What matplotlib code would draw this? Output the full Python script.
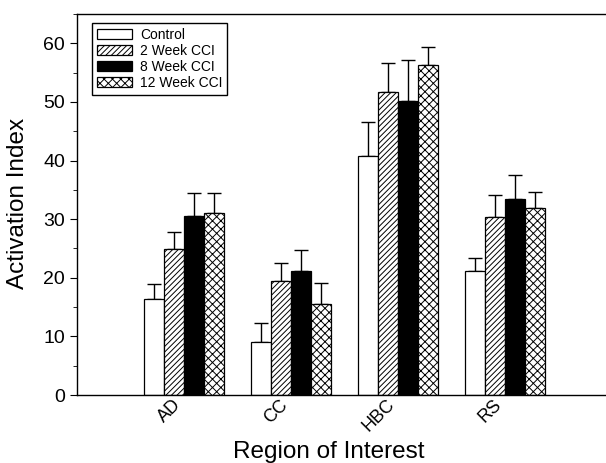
import numpy as np
import matplotlib.pyplot as plt
from matplotlib.ticker import MultipleLocator

plt.rcParams['font.family'] = ['Liberation Sans', 'DejaVu Sans']
plt.rcParams['hatch.linewidth'] = 0.7

regions = ["AD", "CC", "HBC", "RS"]
groups = ["Control", "2 Week CCI", "8 Week CCI", "12 Week CCI"]

control = [16.3, 9.1, 40.7, 21.2]
week2 = [24.9, 19.5, 51.7, 30.4]
week8 = [30.6, 21.1, 50.2, 33.4]
week12 = [31.1, 15.5, 56.3, 31.9]

control_err = [2.6, 3.2, 5.9, 2.1]
week2_err = [2.9, 3.1, 4.9, 3.7]
week8_err = [3.8, 3.7, 7.0, 4.2]
week12_err = [3.4, 3.6, 3.1, 2.8]

means = [control, week2, week8, week12]
errs = [control_err, week2_err, week8_err, week12_err]
colors = ["white", "white", "black", "white"]
hatches = [None, "//////", None, "xxxx"]

fig = plt.figure(figsize=(6.06, 4.63), dpi=100)
ax = fig.add_axes([77/606, 68/463, 529/606, 381/463])

x = np.arange(1, len(regions) + 1)
w = 0.187
for i in range(4):
    pos = x + (i - 1.5) * w
    ax.bar(pos, means[i], w, color=colors[i], edgecolor="black",
           hatch=hatches[i], linewidth=0.9, label=groups[i], zorder=2)
    ax.errorbar(pos, means[i], yerr=[np.zeros(4), errs[i]], fmt="none",
                ecolor="black", elinewidth=1, capsize=5, capthick=1, zorder=1)

ax.set_xlim(0, 4.94)
ax.set_ylim(0, 65)
ax.yaxis.set_major_locator(MultipleLocator(10))
ax.yaxis.set_minor_locator(MultipleLocator(5))
ax.tick_params(axis="y", which="major", length=5, labelsize=14, direction="out")
ax.tick_params(axis="y", which="minor", length=3, direction="out")
ax.set_xticks(x)
ax.set_xticklabels(regions, rotation=45, ha="right", fontsize=13)
ax.tick_params(axis="x", length=0, pad=1)
ax.spines["right"].set_visible(False)
for s in ["left", "bottom", "top"]:
    ax.spines[s].set_linewidth(1)

ax.set_xlabel("Region of Interest", fontsize=17.5)
ax.set_ylabel("Activation Index", fontsize=17.5)
ax.xaxis.set_label_coords(0.4754, -0.122)
ax.yaxis.set_label_coords(-0.091, 0.504)

leg = ax.legend(loc="upper left", bbox_to_anchor=(92/606, 1 - 23/463),
                bbox_transform=fig.transFigure, borderaxespad=0,
                fontsize=10, handlelength=2.5, handleheight=0.75,
                labelspacing=0.14, fancybox=False, edgecolor="black",
                framealpha=1, borderpad=0.35, handletextpad=0.6)
leg.get_frame().set_linewidth(1)

fig.savefig("out.png", dpi=100)
